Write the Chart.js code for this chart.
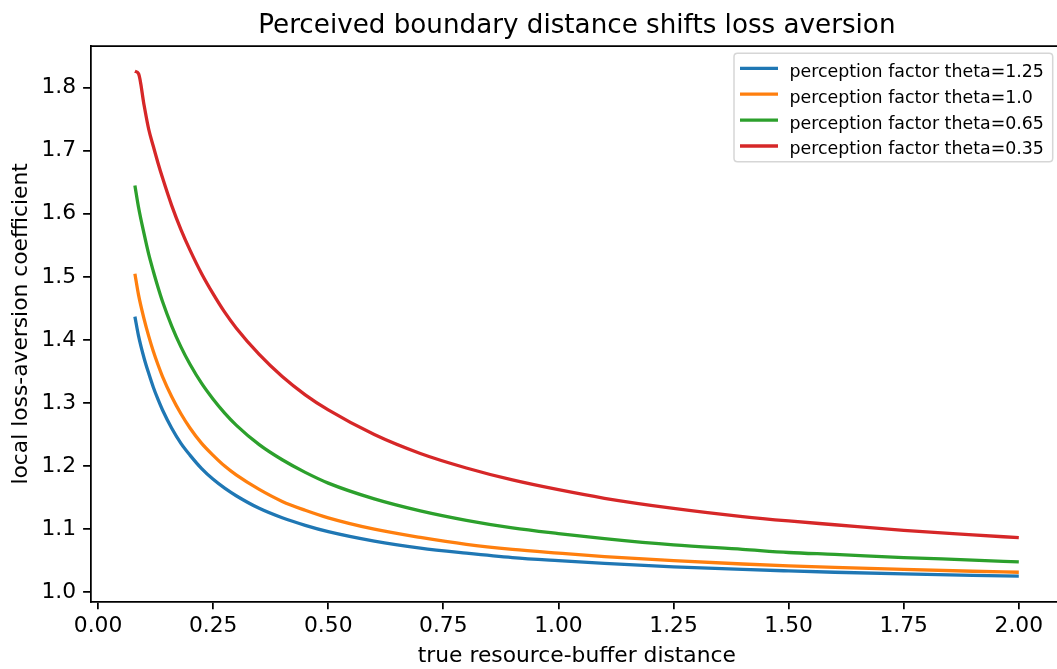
<!DOCTYPE html>
<html>
<head>
<meta charset="utf-8">
<script src="https://cdn.jsdelivr.net/npm/chart.js@4.4.1/dist/chart.umd.min.js"></script>
<style>
html,body{margin:0;padding:0;background:#fff;overflow:hidden;width:1057px;height:669px;}
#wrap{position:absolute;left:0;top:0;width:1063px;height:669px;}
</style>
</head>
<body>
<div id="wrap"><canvas id="c" width="1063" height="669"></canvas></div>
<script>
const chartTitle = "Perceived boundary distance shifts loss aversion";
const xAxisLabel = "true resource-buffer distance";
const yAxisLabel = "local loss-aversion coefficient";
const seriesLabels = [
  "perception factor theta=1.25",
  "perception factor theta=1.0",
  "perception factor theta=0.65",
  "perception factor theta=0.35"
];
const seriesColors = ["#1f77b4", "#ff7f0e", "#2ca02c", "#d62728"];

const distance = [0.08, 0.088, 0.1, 0.11, 0.12, 0.13, 0.14, 0.16, 0.18, 0.2, 0.225, 0.25, 0.275, 0.3, 0.35, 0.4, 0.45, 0.5, 0.6, 0.7, 0.8, 0.9, 1.0, 1.1, 1.25, 1.4, 1.5, 1.6, 1.75, 1.9, 2.0];
const theta125 = [1.437, 1.406, 1.371, 1.347, 1.325, 1.306, 1.289, 1.260, 1.236, 1.217, 1.196, 1.179, 1.165, 1.153, 1.133, 1.118, 1.106, 1.096, 1.081, 1.070, 1.062, 1.055, 1.050, 1.0456, 1.0403, 1.0361, 1.0338, 1.0317, 1.0291, 1.0268, 1.0256];
const theta100 = [1.505, 1.471, 1.433, 1.406, 1.382, 1.361, 1.342, 1.310, 1.283, 1.260, 1.236, 1.217, 1.200, 1.186, 1.163, 1.144, 1.130, 1.118, 1.100, 1.087, 1.076, 1.068, 1.062, 1.0565, 1.050, 1.0448, 1.0419, 1.0394, 1.0361, 1.0333, 1.0317];
const theta065 = [1.645, 1.610, 1.568, 1.536, 1.509, 1.484, 1.461, 1.422, 1.389, 1.361, 1.331, 1.306, 1.284, 1.265, 1.234, 1.210, 1.190, 1.173, 1.148, 1.129, 1.114, 1.102, 1.093, 1.085, 1.075, 1.068, 1.063, 1.060, 1.055, 1.051, 1.048];
const theta035 = [1.826, 1.822, 1.772, 1.734, 1.707, 1.681, 1.657, 1.613, 1.575, 1.542, 1.505, 1.473, 1.444, 1.419, 1.377, 1.342, 1.313, 1.289, 1.250, 1.220, 1.197, 1.178, 1.1625, 1.149, 1.133, 1.120, 1.113, 1.107, 1.098, 1.091, 1.0865];
const xTickStep = 0.25;
const yTickStep = 0.1;

const allSeries = [theta125, theta100, theta065, theta035];

Chart.defaults.font.family = "'DejaVu Sans', sans-serif";
Chart.defaults.color = "#000";

const FS = 21.8;

const decorPlugin = {
  id: "decor",
  afterDraw(chart) {
    const ctx = chart.ctx;
    const a = chart.chartArea;
    ctx.save();
    // top and right spines
    ctx.strokeStyle = "#000";
    ctx.lineWidth = 1.75;
    ctx.beginPath();
    ctx.moveTo(a.left, a.top);
    ctx.lineTo(a.right, a.top);
    ctx.lineTo(a.right, a.bottom);
    ctx.stroke();
    // title
    ctx.fillStyle = "#000";
    ctx.font = "26.2px 'DejaVu Sans'";
    ctx.textAlign = "center";
    ctx.textBaseline = "alphabetic";
    ctx.fillText(chartTitle, (a.left + a.right) / 2, 33);
    // legend
    const bx = 734, by = 53.3, bw = 318.7, bh = 108.4, r = 3.5;
    ctx.beginPath();
    ctx.moveTo(bx + r, by);
    ctx.lineTo(bx + bw - r, by);
    ctx.quadraticCurveTo(bx + bw, by, bx + bw, by + r);
    ctx.lineTo(bx + bw, by + bh - r);
    ctx.quadraticCurveTo(bx + bw, by + bh, bx + bw - r, by + bh);
    ctx.lineTo(bx + r, by + bh);
    ctx.quadraticCurveTo(bx, by + bh, bx, by + bh - r);
    ctx.lineTo(bx, by + r);
    ctx.quadraticCurveTo(bx, by, bx + r, by);
    ctx.closePath();
    ctx.fillStyle = "rgba(255,255,255,0.8)";
    ctx.fill();
    ctx.strokeStyle = "#d6d6d6";
    ctx.lineWidth = 1.5;
    ctx.stroke();
    ctx.font = "17.4px 'DejaVu Sans'";
    ctx.textAlign = "left";
    ctx.textBaseline = "alphabetic";
    chart.data.datasets.forEach((ds, i) => {
      const ry = 68.3 + i * 25.9;
      ctx.strokeStyle = ds.borderColor;
      ctx.lineWidth = 3.3;
      ctx.beginPath();
      ctx.moveTo(740, ry);
      ctx.lineTo(778, ry);
      ctx.stroke();
      ctx.fillStyle = "#000";
      ctx.fillText(ds.label, 789.5, ry + 8.4);
    });
    ctx.restore();
  }
};

const datasets = allSeries.map((ys, i) => ({
  label: seriesLabels[i],
  data: distance.map((d, j) => ({ x: d, y: ys[j] })),
  borderColor: seriesColors[i],
  backgroundColor: seriesColors[i],
  borderWidth: 3.3,
  pointRadius: 0,
  fill: false,
  cubicInterpolationMode: "monotone",
  tension: 0.4
}));

new Chart(document.getElementById("c"), {
  type: "line",
  data: { datasets },
  options: {
    responsive: false,
    animation: false,
    devicePixelRatio: 1,
    layout: { padding: { top: 46, left: 0, right: 0, bottom: 0 } },
    plugins: {
      legend: { display: false },
      title: { display: false },
      tooltip: { enabled: false }
    },
    scales: {
      x: {
        type: "linear",
        min: -0.016,
        max: 2.096,
        ticks: {
          stepSize: xTickStep,
          includeBounds: false,
          autoSkip: false,
          maxRotation: 0,
          padding: 4,
          color: "#000",
          font: { size: FS },
          callback: v => Number(v).toFixed(2)
        },
        grid: { display: true, drawOnChartArea: false, drawTicks: true, tickLength: 7.6, color: "#000", lineWidth: 1.75 },
        border: { display: true, color: "#000", width: 1.75 },
        title: { display: true, text: xAxisLabel, color: "#000", font: { size: FS }, padding: { top: 0, bottom: 0 } },
        afterFit: s => { s.height = 67.3; }
      },
      y: {
        type: "linear",
        min: 0.985,
        max: 1.866,
        ticks: {
          stepSize: yTickStep,
          includeBounds: false,
          autoSkip: false,
          padding: 7,
          color: "#000",
          font: { size: FS },
          callback: v => Number(v).toFixed(1)
        },
        grid: { display: true, drawOnChartArea: false, drawTicks: true, tickLength: 7.6, color: "#000", lineWidth: 1.75 },
        border: { display: true, color: "#000", width: 1.75 },
        title: { display: true, text: yAxisLabel, color: "#000", font: { size: FS }, padding: { top: 8, bottom: 0 } },
        afterFit: s => { s.width = 90.7; }
      }
    }
  },
  plugins: [decorPlugin]
});
</script>
</body>
</html>
